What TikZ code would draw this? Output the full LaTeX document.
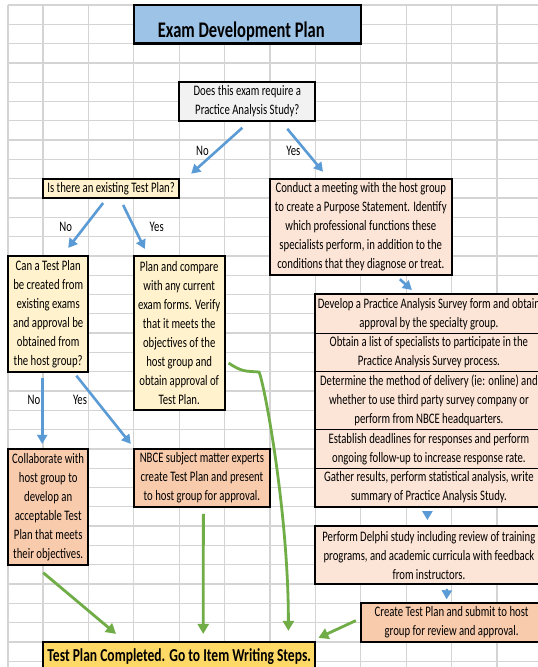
\documentclass[tikz,border=0pt]{standalone}
\usepackage{fontspec}
\setmainfont{Carlito}[FakeStretch=0.74]
\usetikzlibrary{arrows.meta}
\definecolor{titleblue}{HTML}{9DC3E6}
\definecolor{askgray}{HTML}{F2F2F2}
\definecolor{askyellow}{HTML}{FFF2CC}
\definecolor{peach}{HTML}{FCE4D6}
\definecolor{salmon}{HTML}{F8CBAD}
\definecolor{gold}{HTML}{FFD966}
\definecolor{arrowblue}{HTML}{5B9BD5}
\definecolor{arrowgreen}{HTML}{70AD47}
\definecolor{gridgray}{HTML}{D4D4D4}
\tikzstyle{cellbox}=[draw=black,line width=2pt,inner sep=0pt,align=center,font=\fontsize{14.5}{19}\selectfont]
\tikzstyle{stackbox}=[cellbox,fill=peach,line width=1pt,minimum width=227pt]
\tikzstyle{armtext}=[inner sep=0pt,font=\fontsize{14.5}{19}\selectfont]
\tikzstyle{gridline}=[draw=gridgray,line width=1.3pt]
\tikzstyle{bluearrow}=[draw=arrowblue,line width=2.6pt,-{Triangle[width=10pt,length=9pt]}]
\tikzstyle{greenarrow}=[draw=arrowgreen,line width=2.8pt,-{Triangle[width=11pt,length=10pt]}]

\begin{document}
\begin{tikzpicture}[x=1pt,y=-1pt]

   \useasboundingbox (0,0) rectangle (538,667);
   \clip (0,0) rectangle (538,667);
   \fill[white] (0,0) rectangle (538,667);

%sheet grid
   \def\rh{19.3}
   \foreach \gx in {8,43,88.4,133.8,179.2,224.6,270,315.4,360.8,406.2,451.6,497}
      \draw[gridline] (\gx,5) -- (\gx,667);
   \foreach \k in {0,...,34}
      \draw[gridline] (8,{5+\rh*\k}) -- (538,{5+\rh*\k});

%Title
  \node[cellbox,fill=titleblue,line width=2.5pt,minimum width=227pt,minimum height=38.6pt] (title) at (247.3,24.3) {};
  \node[font=\fontsize{22.3}{26}\selectfont\bfseries,inner sep=0pt] (titletext) at ([xshift=-6pt,yshift=-7pt]title.center) {Exam Development Plan};

%questions
  \node[cellbox,fill=askgray,minimum width=136.2pt,minimum height=38.6pt] (practice) at (247.3,101.5) {Does this exam require a\\Practice Analysis Study?};
  \node[cellbox,fill=askyellow,minimum width=136.2pt,minimum height=19.3pt] (existing) at (111.1,188.35) {Is there an existing Test Plan?};
  \node[cellbox,fill=askyellow,minimum width=80.4pt,minimum height=115.8pt] (canCreate) at (48.2,313.8) {Can a Test Plan\\be created from\\existing exams\\and approval be\\obtained from\\the host group?};
  \node[cellbox,fill=askyellow,minimum width=90.8pt,minimum height=154.4pt] (compare) at (179.2,333.1) {Plan and compare\\with any current\\exam forms. Verify\\that it meets the\\objectives of the\\host group and\\obtain approval of\\Test Plan.};

%practice analysis side
  \node[cellbox,fill=peach,minimum width=181.6pt,minimum height=96.5pt] (meeting) at (360.8,226.95) {Conduct a meeting with the host group\\to create a Purpose Statement. Identify\\which professional functions these\\specialists perform, in addition to the\\conditions that they diagnose or treat.};
  \node[stackbox,minimum height=38.6pt] (develop) at (428.9,313.8) {Develop a Practice Analysis Survey form and obtain\\approval by the specialty group.};
  \node[stackbox,minimum height=38.6pt] (obtain) at (428.9,352.4) {Obtain a list of specialists to participate in the\\Practice Analysis Survey process.};
  \node[stackbox,minimum height=57.9pt] (delivery) at (428.9,400.65) {Determine the method of delivery (ie: online) and\\whether to use third party survey company or\\perform from NBCE headquarters.};
  \node[stackbox,minimum height=38.6pt] (deadline) at (428.9,448.9) {Establish deadlines for responses and perform\\ongoing follow-up to increase response rate.};
  \node[stackbox,minimum height=38.6pt] (gather) at (428.9,487.5) {Gather results, perform statistical analysis, write\\summary of Practice Analysis Study.};
  \draw[line width=2pt] (develop.north west) rectangle (gather.south east);
  \node[cellbox,fill=peach,minimum width=227pt,minimum height=57.9pt] (delphi) at (428.9,555.05) {Perform Delphi study including review of training\\programs, and academic curricula with feedback\\from instructors.};
  \node[cellbox,fill=salmon,minimum width=181.6pt,minimum height=38.6pt] (submit) at (451.6,622.6) {Create Test Plan and submit to host\\group for review and approval.};

%test plan side
  \node[cellbox,fill=salmon,minimum width=80.4pt,minimum height=115.8pt] (collab) at (48.2,506.8) {Collaborate with\\host group to\\develop an\\acceptable Test\\Plan that meets\\their objectives.};
  \node[cellbox,fill=salmon,minimum width=136.2pt,minimum height=57.9pt] (nbce) at (201.9,477.85) {NBCE subject matter experts\\create Test Plan and present\\to host group for approval.};

%end
  \node[cellbox,fill=gold,minimum width=272.4pt,minimum height=30pt,font=\fontsize{18.3}{22}\selectfont\bfseries] (done) at (179.2,656.9) {Test Plan Completed. Go to Item Writing Steps.};

% Yes / No
  \foreach \pos/\name/\txt in {{(202.5,150.7)/noA/No},{(293.4,150.7)/yesA/Yes},{(65.7,226.7)/noB/No},{(156.7,226.7)/yesB/Yes},{(34,400)/noC/No},{(80,400)/yesC/Yes}}
     \node[armtext] (\name) at \pos {\txt};

% blue arrows
  \draw[bluearrow] ([xshift=-5pt,yshift=-6pt]practice.south) -- ([xshift=11pt,yshift=4pt]existing.north east);
  \draw[bluearrow] ([xshift=40pt,yshift=-7pt]practice.south) -- ([xshift=54pt,yshift=6pt]meeting.north west);
  \draw[bluearrow] ([xshift=-8pt,yshift=-4pt]existing.south) -- ([xshift=20pt,yshift=7pt]canCreate.north);
  \draw[bluearrow] ([xshift=12pt,yshift=-6pt]existing.south) -- ([xshift=12pt,yshift=6pt]compare.north west);
  \draw[bluearrow] ([xshift=-6pt,yshift=-5pt]canCreate.south) -- ([xshift=-6pt,yshift=4pt]collab.north);
  \draw[bluearrow] ([xshift=-13pt,yshift=-3pt]canCreate.south east) -- ([xshift=-2pt,yshift=4pt]nbce.north west);
  \draw[bluearrow] ([xshift=39pt,yshift=-3pt]meeting.south) -- ([xshift=-17pt,yshift=4pt]develop.north);
  \draw[bluearrow] ([xshift=-1.5pt,yshift=-4pt]gather.south) -- ([xshift=-1.5pt,yshift=5pt]delphi.north);
  \draw[bluearrow] ([xshift=18pt,yshift=-4pt]delphi.south) -- ([xshift=-5pt,yshift=3pt]submit.north);

% green arrows
  \draw[greenarrow] ([xshift=-5pt,yshift=-7pt]collab.south) -- ([xshift=74pt,yshift=7pt]done.north west);
  \draw[greenarrow] ([xshift=1.5pt,yshift=-6pt]nbce.south) -- ([xshift=24pt,yshift=7pt]done.north);
  \draw[greenarrow] ([xshift=3pt,yshift=-30pt]compare.east) .. controls +(14,9) and +(-14,-1) .. (259,372) .. controls +(5,10) and +(0,-120) .. ([xshift=-28pt,yshift=10pt]done.north east);
  \draw[greenarrow] ([xshift=-4pt,yshift=2pt]submit.west) -- ([xshift=2pt,yshift=3pt]done.north east);

\end{tikzpicture}
\end{document}
